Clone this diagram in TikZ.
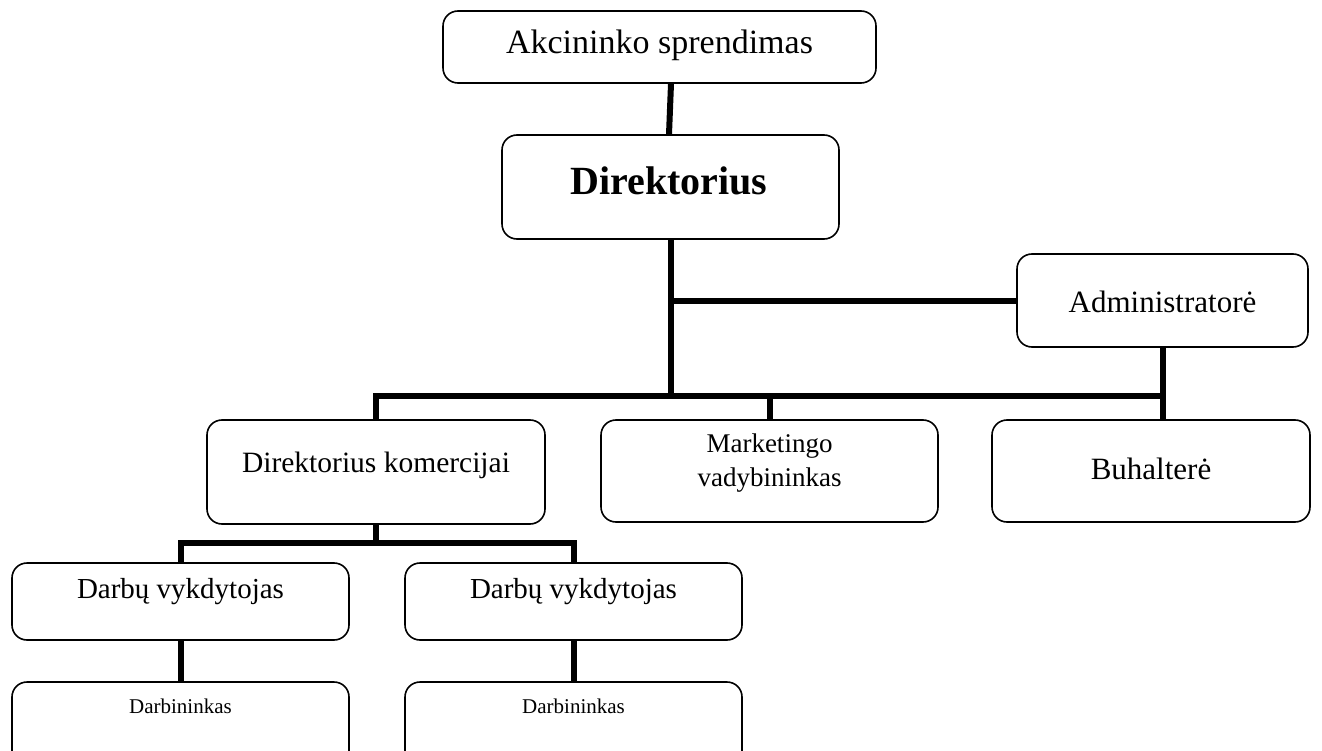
\documentclass[tikz,border=0pt]{standalone}
\usepackage{fontspec}
\setmainfont{Liberation Serif}
\usetikzlibrary{calc}
\tikzset{
  box/.style={draw=black, line width=1.6pt, rounded corners=15pt, fill=white, inner sep=0pt},
  conn/.style={draw=black, line width=6pt, line join=miter},
  lbl/.style={inner sep=0pt, align=center}
}
\begin{document}
\begin{tikzpicture}[x=1pt, y=-1pt]
\useasboundingbox (0,0) rectangle (1322,751);
\clip (0,0) rectangle (1322,751);
% boxes
\node[box, minimum width=433pt, minimum height=72pt] (akc) at (659.5,47) {};
\node[box, minimum width=337pt, minimum height=104pt] (dir) at (670.5,187) {};
\node[box, minimum width=291pt, minimum height=93pt] (adm) at (1162.5,300.5) {};
\node[box, minimum width=338pt, minimum height=104pt] (kom) at (376,472) {};
\node[box, minimum width=337pt, minimum height=102pt] (mkt) at (769.5,471) {};
\node[box, minimum width=318pt, minimum height=102pt] (buh) at (1151,471) {};
\node[box, minimum width=337pt, minimum height=77pt] (dv1) at (180.5,601.5) {};
\node[box, minimum width=337pt, minimum height=77pt] (dv2) at (573.5,601.5) {};
\node[box, minimum width=337pt, minimum height=98pt] (db1) at (180.5,731) {};
\node[box, minimum width=337pt, minimum height=98pt] (db2) at (573.5,731) {};
% labels
\node[lbl, font=\fontsize{34}{37}\selectfont] (takc) at (659.5,45) {Akcininko sprendimas};
\node[lbl, font=\fontsize{40}{44}\selectfont\bfseries] (tdir) at (669,181) {Direktorius};
\node[lbl, font=\fontsize{31}{34}\selectfont] (tadm) at (1162.5,302) {Administratorė};
\node[lbl, font=\fontsize{29.5}{32}\selectfont] (tkom) at (376,465) {Direktorius komercijai};
\node[lbl, font=\fontsize{27}{34}\selectfont] (tmkt) at (769.5,463) {Marketingo\\vadybininkas};
\node[lbl, font=\fontsize{31}{34}\selectfont] (tbuh) at (1151,469) {Buhalterė};
\node[lbl, font=\fontsize{29}{32}\selectfont] (tdv1) at (180.5,592) {Darbų vykdytojas};
\node[lbl, font=\fontsize{29}{32}\selectfont] (tdv2) at (573.5,592) {Darbų vykdytojas};
\node[lbl, font=\fontsize{21}{24}\selectfont] (tdb1) at (180.5,706) {Darbininkas};
\node[lbl, font=\fontsize{21}{24}\selectfont] (tdb2) at (573.5,706) {Darbininkas};
% junction coordinates
\coordinate (bar) at (671,396);
\coordinate (bar2) at (376,543);
% connectors
\draw[conn] ([xshift=11.5pt]akc.south) -- ([xshift=-1.5pt]dir.north);
\draw[conn] (dir.south) -- (dir.south |- bar);
\draw[conn] (dir.south |- adm.west) -- (adm.west);
\draw[conn] (kom.north) -- (kom.north |- bar) -- (adm.south |- bar);
\draw[conn] (mkt.north) -- (mkt.north |- bar);
\draw[conn] (adm.south) -- (adm.south |- buh.north);
\draw[conn] (kom.south) -- (kom.south |- bar2);
\draw[conn] (dv1.north) -- (dv1.north |- bar2) -- (dv2.north |- bar2) -- (dv2.north);
\draw[conn] (dv1.south) -- (db1.north);
\draw[conn] (dv2.south) -- (db2.north);
\end{tikzpicture}
\end{document}
